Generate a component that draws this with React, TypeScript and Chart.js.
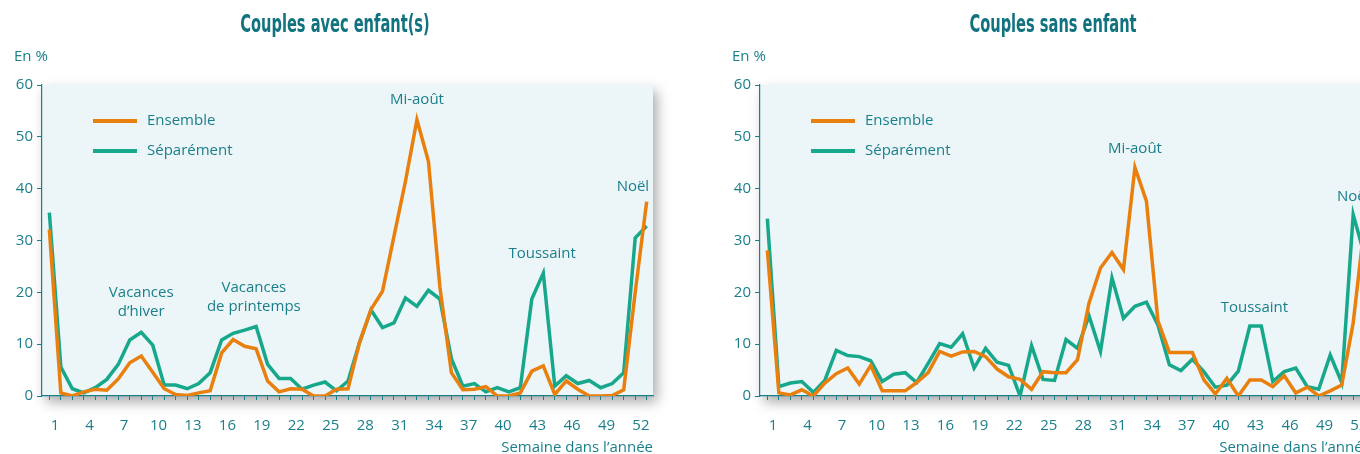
import { useEffect, useRef } from "react";
import { Chart, registerables } from "chart.js";

Chart.register(...registerables);

// Tick labels
const weekLabels = [1, 4, 7, 10, 13, 16, 19, 22, 25, 28, 31, 34, 37, 40, 43, 46, 49, 52];
const percentTicks = [0, 10, 20, 30, 40, 50, 60];

// Couples avec enfant(s) - 53 weekly points
const avecEnsemble = [
  32.1, 0.6, 0, 0.8, 1.3, 1.1, 3.3, 6.4, 7.7, 4.6,
  1.4, 0.3, 0.1, 0.6, 1.0, 8.3, 10.9, 9.6, 9.1, 2.9,
  0.8, 1.4, 1.3, 0, 0, 1.3, 1.4, 10.3, 16.7, 20.2,
  30.8, 41.4, 53.3, 45.3, 21, 4.5, 1.2, 1.3, 1.8, 0,
  0, 0.6, 4.8, 5.8, 0.3, 2.9, 1.3, 0, 0, 0.1,
  1.2, 20, 37.5,
];
const avecSeparement = [
  35.4, 5.6, 1.4, 0.6, 1.6, 3.2, 6.1, 10.8, 12.3, 9.8,
  2.1, 2.1, 1.4, 2.4, 4.5, 10.8, 12.1, 12.7, 13.4, 6.1,
  3.4, 3.4, 1.3, 2.1, 2.7, 1.0, 2.9, 10.3, 16.6, 13.2,
  14.1, 18.9, 17.3, 20.4, 18.7, 7.2, 1.9, 2.4, 0.8, 1.6,
  0.8, 1.6, 18.7, 23.7, 1.9, 3.9, 2.4, 3.0, 1.6, 2.4,
  4.5, 30.5, 32.8,
];

// Couples sans enfant
const sansEnsemble = [
  28.1, 0.6, 0.2, 1.2, 0, 2.5, 4.3, 5.4, 2.3, 5.9,
  1.0, 1.0, 1.0, 2.6, 4.5, 8.6, 7.7, 8.5, 8.6, 7.6,
  5.2, 3.7, 3.2, 1.3, 4.7, 4.5, 4.5, 7.0, 17.9, 24.7,
  27.7, 24.4, 44.1, 37.6, 14.5, 8.4, 8.4, 8.4, 3.1, 0.4,
  3.4, 0, 3.1, 3.1, 1.8, 3.9, 0.6, 1.7, 0, 1.0,
  2.1, 14.1, 33.5,
];
const sansSeparement = [
  34.2, 1.8, 2.5, 2.8, 0.7, 3.0, 8.8, 7.8, 7.6, 6.8,
  2.8, 4.2, 4.5, 2.6, 6.3, 10.1, 9.4, 12.0, 5.4, 9.2,
  6.5, 5.9, 0, 9.7, 3.2, 3.0, 10.9, 9.2, 15.5, 8.6,
  22.8, 15.0, 17.3, 18.1, 13.7, 6.0, 4.9, 7.1, 4.7, 1.7,
  2.1, 4.8, 13.5, 13.5, 2.8, 4.7, 5.4, 1.8, 1.3, 7.9,
  2.6, 35.0, 27.0,
];

type Note = { lines: string[]; x: number; y: number };

// annotation anchors, in axis units (week, %)
const avecNotes: Note[] = [
  { lines: ["Vacances", "d\u2019hiver"], x: 8.5, y: 20 },
  { lines: ["Vacances", "de printemps"], x: 18.3, y: 20.9 },
  { lines: ["Mi-ao\u00fbt"], x: 32.5, y: 57.2 },
  { lines: ["Toussaint"], x: 43.4, y: 27.5 },
  { lines: ["No\u00ebl"], x: 51.3, y: 40.4 },
];
const sansNotes: Note[] = [
  { lines: ["Mi-ao\u00fbt"], x: 32.5, y: 47.7 },
  { lines: ["Toussaint"], x: 42.9, y: 17.1 },
  { lines: ["No\u00ebl"], x: 51.5, y: 38.4 },
];

const ORANGE = "#e9800e";
const GREEN = "#17a88c";
const TEAL = "#1a7f8b";
const TITLE_TEAL = "#10737f";
const PLOT_BG = "#ecf5f8";
const FONT = '"Open Sans", "Noto Sans", sans-serif';

function decor(title: string, notes: Note[]) {
  return {
    id: "decor",
    beforeDraw(chart: Chart) {
      const { ctx, chartArea: a } = chart;
      ctx.save();
      ctx.shadowColor = "rgba(0,0,0,0.34)";
      ctx.shadowBlur = 12;
      ctx.shadowOffsetX = 4;
      ctx.shadowOffsetY = 6;
      ctx.fillStyle = PLOT_BG;
      ctx.fillRect(a.left, a.top, a.right - a.left, a.bottom - a.top);
      ctx.restore();
    },
    afterDraw(chart: Chart) {
      const { ctx, chartArea: a, scales } = chart;
      ctx.save();

      // panel title, condensed bold
      ctx.save();
      ctx.fillStyle = TITLE_TEAL;
      ctx.font = 'bold 25px "Liberation Sans Narrow", "DejaVu Sans Condensed", sans-serif';
      ctx.textAlign = "center";
      ctx.textBaseline = "alphabetic";
      ctx.translate(a.left + 293, 32);
      ctx.scale(0.65, 1);
      ctx.fillText(title, 0, 0);
      ctx.restore();

      ctx.fillStyle = TEAL;
      ctx.font = `15px ${FONT}`;
      ctx.textAlign = "left";
      ctx.textBaseline = "middle";
      ctx.fillText("En %", a.left - 28, 57);

      // legend inside the plot
      chart.data.datasets.forEach((ds, i) => {
        const y = a.top + 36 + i * 30;
        ctx.strokeStyle = ds.borderColor as string;
        ctx.lineWidth = 4;
        ctx.beginPath();
        ctx.moveTo(a.left + 51, y);
        ctx.lineTo(a.left + 95, y);
        ctx.stroke();
        ctx.fillStyle = TEAL;
        ctx.fillText(ds.label ?? "", a.left + 105, y);
      });

      // period annotations
      ctx.textAlign = "center";
      notes.forEach((n) => {
        const px = scales.x.getPixelForValue(n.x);
        const py = scales.y.getPixelForValue(n.y);
        n.lines.forEach((line, j) => ctx.fillText(line, px, py + j * 19));
      });
      ctx.restore();
    },
  };
}

function Panel({
  title,
  ensemble,
  separement,
  notes,
  left,
}: {
  title: string;
  ensemble: number[];
  separement: number[];
  notes: Note[];
  left: number;
}) {
  const canvasRef = useRef<HTMLCanvasElement>(null);

  useEffect(() => {
    if (!canvasRef.current) return;
    // points sit half a step before each week label
    const toPoints = (values: number[]) => values.map((v, i) => ({ x: i + 0.5, y: v }));

    const chart = new Chart(canvasRef.current, {
      type: "line",
      data: {
        datasets: [
          {
            label: "Ensemble",
            data: toPoints(ensemble),
            borderColor: ORANGE,
            borderWidth: 3.5,
            pointRadius: 0,
            tension: 0,
          },
          {
            label: "S\u00e9par\u00e9ment",
            data: toPoints(separement),
            borderColor: GREEN,
            borderWidth: 3.5,
            pointRadius: 0,
            tension: 0,
          },
        ],
      },
      options: {
        responsive: false,
        animation: false,
        layout: { padding: { left: 0, right: 64, top: 85, bottom: 0 } },
        plugins: {
          legend: { display: false },
          tooltip: { enabled: false },
        },
        scales: {
          x: {
            type: "linear",
            min: -0.14,
            max: 53.05,
            afterBuildTicks: (scale) => {
              scale.ticks = Array.from({ length: 52 }, (_, i) => ({ value: i + 1 }));
            },
            afterFit: (scale) => {
              scale.height = 58;
            },
            grid: {
              offset: true,
              drawOnChartArea: false,
              tickLength: 4,
              color: TEAL,
            },
            border: { color: TEAL, width: 1.2 },
            ticks: {
              autoSkip: false,
              maxRotation: 0,
              padding: 17,
              color: TEAL,
              font: { family: FONT, size: 15 },
              callback: (value) => (weekLabels.includes(Number(value)) ? String(value) : ""),
            },
            title: {
              display: true,
              text: "Semaine dans l\u2019ann\u00e9e",
              align: "end",
              color: TEAL,
              font: { family: FONT, size: 15, lineHeight: 1 },
              padding: { top: 0, bottom: -1 },
            },
          },
          y: {
            min: 0,
            max: 60,
            afterBuildTicks: (scale) => {
              scale.ticks = percentTicks.map((v) => ({ value: v }));
            },
            afterFit: (scale) => {
              scale.width = 42;
            },
            grid: {
              drawOnChartArea: false,
              tickLength: 5,
              color: TEAL,
            },
            border: { color: TEAL, width: 1.2 },
            ticks: {
              padding: 4,
              color: TEAL,
              font: { family: FONT, size: 15 },
            },
          },
        },
      },
      plugins: [decor(title, notes)],
    });

    return () => chart.destroy();
  }, [title, ensemble, separement, notes]);

  return (
    <div style={{ position: "absolute", left, top: 0 }}>
      <canvas ref={canvasRef} width={717} height={454} />
    </div>
  );
}

export default function App() {
  return (
    <div
      style={{
        position: "fixed",
        left: 0,
        top: 0,
        width: 1360,
        height: 454,
        overflow: "hidden",
        background: "#ffffff",
      }}
    >
      <Panel
        title="Couples avec enfant(s)"
        ensemble={avecEnsemble}
        separement={avecSeparement}
        notes={avecNotes}
        left={0}
      />
      <Panel
        title="Couples sans enfant"
        ensemble={sansEnsemble}
        separement={sansSeparement}
        notes={sansNotes}
        left={718}
      />
    </div>
  );
}
